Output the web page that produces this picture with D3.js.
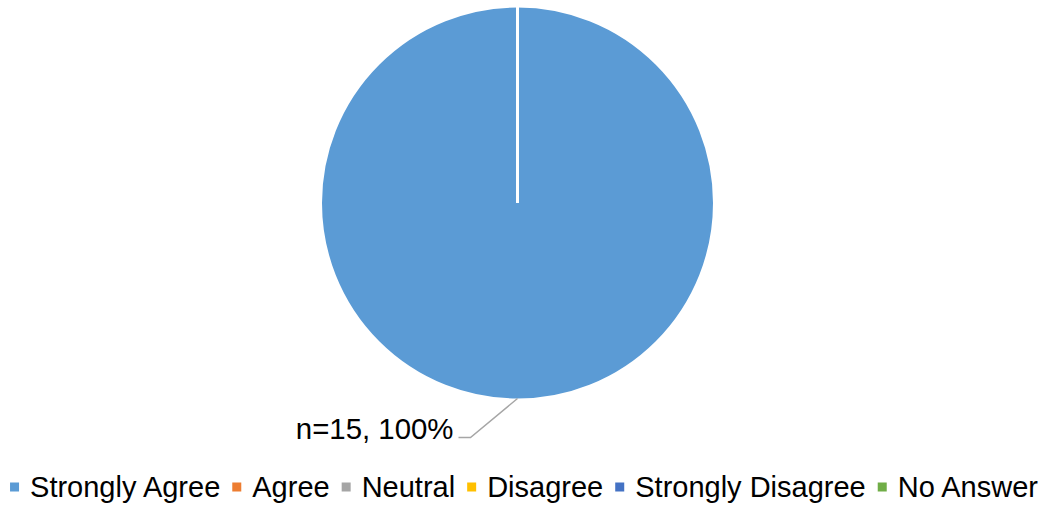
<!DOCTYPE html>
<html>
<head>
<meta charset="utf-8">
<script src="https://cdn.jsdelivr.net/npm/d3@7"></script>
<style>
  html, body { margin: 0; padding: 0; background: #ffffff; }
  svg { display: block; font-family: "Liberation Sans", Arial, sans-serif; }
</style>
</head>
<body>
<svg id="chart" width="1047" height="505"></svg>
<script>
// Survey responses (count of respondents per answer)
const categories = ["Strongly Agree", "Agree", "Neutral", "Disagree", "Strongly Disagree", "No Answer"];
const counts = [15, 0, 0, 0, 0, 0];
const palette = ["#5B9BD5", "#ED7D31", "#A5A5A5", "#FFC000", "#4472C4", "#70AD47"];

const width = 1047, height = 505;
const cx = 517.5, cy = 203, radius = 197;

const svg = d3.select("#chart");
const color = d3.scaleOrdinal().domain(categories).range(palette);

const pie = d3.pie().sort(null).value(d => d.value);
const arcs = pie(categories.map((c, i) => ({ name: c, value: counts[i] })));
const arc = d3.arc().innerRadius(0).outerRadius(radius);

const g = svg.append("g").attr("transform", `translate(${cx},${cy})`);

g.selectAll("path.slice")
  .data(arcs)
  .join("path")
  .attr("class", "slice")
  .attr("d", arc)
  .attr("fill", d => color(d.data.name))
  .attr("stroke", "#ffffff")
  .attr("stroke-width", 3)
  .attr("stroke-linejoin", "miter");

// Data label with leader line for non-empty slices
const total = d3.sum(counts);
arcs.filter(d => d.value > 0).forEach(d => {
  const mid = (d.startAngle + d.endAngle) / 2;
  const r = radius - 1.5;
  const p0 = [Math.sin(mid) * r, -Math.cos(mid) * r];
  const p1 = [p0[0] - 47, p0[1] + 39];
  const p2 = [p1[0] - 12, p1[1]];
  g.append("polyline")
    .attr("points", [p0, p1, p2].map(p => p.join(",")).join(" "))
    .attr("fill", "none")
    .attr("stroke", "#A6A6A6")
    .attr("stroke-width", 1.5);
  g.append("text")
    .attr("x", p2[0] - 5)
    .attr("y", p2[1] + 1)
    .attr("text-anchor", "end")
    .attr("font-size", 29.4)
    .attr("fill", "#000000")
    .text(`n=${d.value}, ${Math.round(d.value / total * 100)}%`);
});

// Legend, centred along the bottom
const legend = svg.append("g");
const markerSize = 9, markerGap = 11, itemGap = 12, legendFont = 29;
const items = legend.selectAll("g.item")
  .data(categories)
  .join("g")
  .attr("class", "item");
items.append("rect")
  .attr("width", markerSize)
  .attr("height", markerSize)
  .attr("y", -markerSize / 2)
  .attr("fill", d => color(d));
items.append("text")
  .attr("x", markerSize + markerGap)
  .attr("y", 10)
  .attr("font-size", legendFont)
  .attr("fill", "#000000")
  .text(d => d);

let xPos = 0;
items.each(function () {
  const w = d3.select(this).select("text").node().getComputedTextLength();
  d3.select(this).attr("transform", `translate(${xPos},0)`);
  xPos += markerSize + markerGap + w + itemGap;
});
const legendWidth = xPos - itemGap;
legend.attr("transform", `translate(${524 - legendWidth / 2},487)`);
</script>
</body>
</html>
